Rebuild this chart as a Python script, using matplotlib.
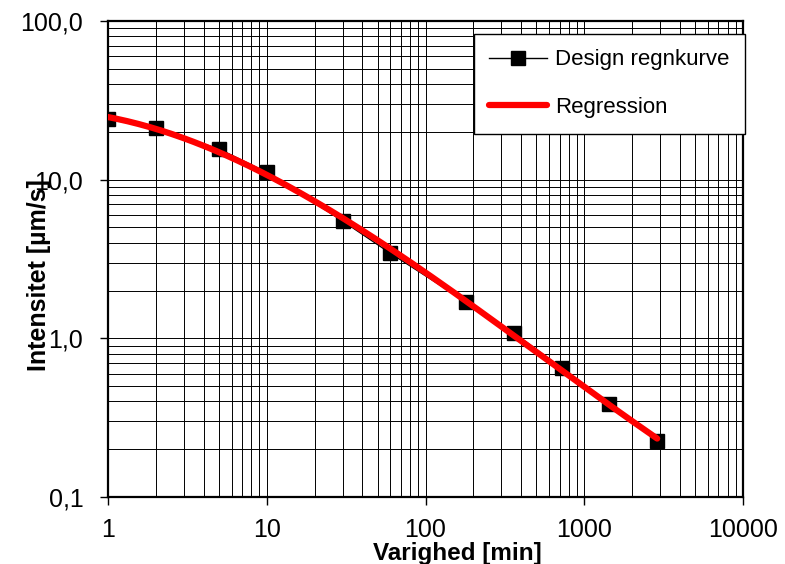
import numpy as np
import matplotlib
matplotlib.use('Agg')
import matplotlib.pyplot as plt
from matplotlib.ticker import FixedLocator, FuncFormatter, LogLocator, NullFormatter

plt.rcParams['font.family'] = ['Liberation Sans', 'DejaVu Sans']

# design rain curve: duration [min] vs intensity [um/s]
duration = np.array([1, 2, 5, 10, 30, 60, 180, 360, 720, 1440, 2880])
intensity = np.array([24.1, 21.1, 15.6, 11.1, 5.5, 3.44, 1.70, 1.08, 0.65, 0.386, 0.226])

x_ticks = [1, 10, 100, 1000, 10000]
y_ticks = [0.1, 1, 10, 100]
y_tick_labels = ['0,1', '1,0', '10,0', '100,0']


def regression(x, y, deg=3):
    coef = np.polyfit(np.log10(x), np.log10(y), deg)
    xs = np.logspace(np.log10(x[0]), np.log10(x[-1]), 200)
    return xs, 10 ** np.polyval(coef, np.log10(xs))


fig = plt.figure(figsize=(7.85, 5.64), dpi=100)
ax = fig.add_axes([0.1376, 0.1188, 0.8089, 0.8440])

ax.plot(duration, intensity, color='black', lw=1, marker='s', ms=10,
        mfc='black', mec='black', label='Design regnkurve', zorder=3)
xs, ys = regression(duration, intensity)
ax.plot(xs, ys, color='#ff0000', lw=4.5, solid_capstyle='round',
        label='Regression', zorder=4)

ax.set_xscale('log')
ax.set_yscale('log')
ax.set_xlim(1, 10000)
ax.set_ylim(0.1, 100)

ax.xaxis.set_major_locator(FixedLocator(x_ticks))
ax.xaxis.set_major_formatter(FuncFormatter(lambda v, p: '%d' % v))
ax.xaxis.set_minor_locator(LogLocator(base=10, subs=np.arange(2, 10)))
ax.xaxis.set_minor_formatter(NullFormatter())
ax.yaxis.set_major_locator(FixedLocator(y_ticks))
ax.set_yticklabels(y_tick_labels)
ax.yaxis.set_minor_locator(LogLocator(base=10, subs=np.arange(2, 10)))
ax.yaxis.set_minor_formatter(NullFormatter())

ax.grid(True, which='both', color='black', lw=0.7)
ax.tick_params(which='major', direction='out', length=5.8, width=1, labelsize=18)
ax.tick_params(axis='x', pad=9)
ax.tick_params(axis='y', pad=12)
ax.tick_params(which='minor', length=0)
for s in ax.spines.values():
    s.set_linewidth(1.6)

ax.set_xlabel('Varighed [min]', fontsize=17.5, fontweight='bold')
ax.xaxis.set_label_coords(0.55, -0.094)
ax.set_ylabel('Intensitet [µm/s]', fontsize=18, fontweight='bold')
ax.yaxis.set_label_coords(-0.090, 0.466)

leg = ax.legend(loc='upper right', bbox_to_anchor=(1.003, 0.973), fontsize=16,
                fancybox=False, framealpha=1, edgecolor='black',
                handlelength=2.6, handletextpad=0.35, labelspacing=1.2,
                borderpad=0.7, borderaxespad=0)
leg.get_frame().set_linewidth(1)

fig.savefig('out.png', dpi=100)
